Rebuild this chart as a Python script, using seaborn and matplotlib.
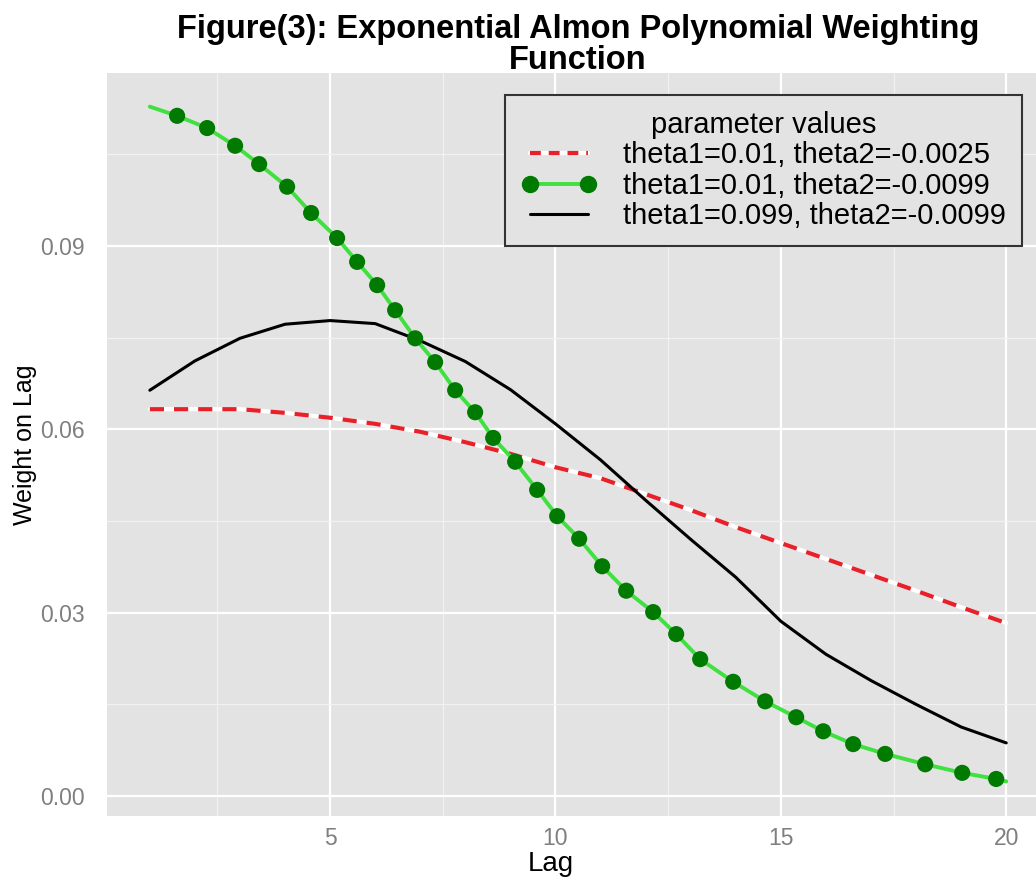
import numpy as np
import pandas as pd
import matplotlib
matplotlib.use("Agg")
import matplotlib.pyplot as plt
import seaborn as sns
from matplotlib.lines import Line2D
from matplotlib.ticker import MultipleLocator

# --- data ---
lag = list(range(1, 21))
weight_red = [0.0633, 0.0633, 0.0633, 0.0627, 0.0619, 0.0609, 0.0596, 0.0579, 0.0560, 0.0538,
              0.0520, 0.0494, 0.0468, 0.0440, 0.0414, 0.0388, 0.0362, 0.0336, 0.0309, 0.0283]
weight_black = [0.0664, 0.0712, 0.0749, 0.0772, 0.0778, 0.0773, 0.0745, 0.0711, 0.0665, 0.0609,
                0.0550, 0.0484, 0.0420, 0.0358, 0.0286, 0.0232, 0.0189, 0.0150, 0.0113, 0.0087]

green_dot_lag = [1.605, 2.271, 2.892, 3.425, 4.046, 4.578, 5.155, 5.599, 6.043, 6.442, 6.886,
                 7.330, 7.774, 8.217, 8.617, 9.105, 9.593, 10.037, 10.525, 11.035, 11.568,
                 12.167, 12.677, 13.210, 13.942, 14.652, 15.340, 15.939, 16.604, 17.314,
                 18.202, 19.023, 19.777]
green_dot_weight = [0.1113, 0.1093, 0.1064, 0.1034, 0.0997, 0.0954, 0.0913, 0.0874, 0.0836,
                    0.0795, 0.0749, 0.0710, 0.0664, 0.0628, 0.0586, 0.0547, 0.0501, 0.0458,
                    0.0421, 0.0376, 0.0336, 0.0301, 0.0265, 0.0224, 0.0187, 0.0155, 0.0129,
                    0.0106, 0.0085, 0.0069, 0.0052, 0.0038, 0.0028]
green_end_lag = [1.0, 20.0]
green_end_weight = [0.1128, 0.0024]

labels = ["theta1=0.01, theta2=-0.0025",
          "theta1=0.01, theta2=-0.0099",
          "theta1=0.099, theta2=-0.0099"]

panel_bg = "#E3E3E3"
red = "#E8202A"
light_green = "#3FE03F"
dark_green = "#007A00"

sns.set_theme(style="darkgrid", rc={
    "axes.facecolor": panel_bg,
    "figure.facecolor": "white",
    "grid.color": "white",
    "axes.edgecolor": panel_bg,
})
plt.rcParams["font.family"] = ["Liberation Sans", "DejaVu Sans"]

df_red = pd.DataFrame({"Lag": lag, "Weight": weight_red})
df_black = pd.DataFrame({"Lag": lag, "Weight": weight_black})
df_green_line = pd.DataFrame({
    "Lag": [green_end_lag[0]] + green_dot_lag + [green_end_lag[1]],
    "Weight": [green_end_weight[0]] + green_dot_weight + [green_end_weight[1]],
})
df_green_dots = pd.DataFrame({"Lag": green_dot_lag, "Weight": green_dot_weight})

fig = plt.figure(figsize=(10.36, 8.81), dpi=100)
ax = fig.add_axes([0.1033, 0.0742, 0.9093, 0.8429])

# red dashed line sits on a white underlay
sns.lineplot(data=df_red, x="Lag", y="Weight", ax=ax, color="white", lw=3.0, zorder=3)
sns.lineplot(data=df_red, x="Lag", y="Weight", ax=ax, color=red, lw=3.0,
             linestyle=(0, (3.4, 2.4)), zorder=4)
sns.lineplot(data=df_black, x="Lag", y="Weight", ax=ax, color="black", lw=2.2, zorder=5)
sns.lineplot(data=df_green_line, x="Lag", y="Weight", ax=ax, color=light_green, lw=2.8, zorder=6)
sns.scatterplot(data=df_green_dots, x="Lag", y="Weight", ax=ax, color=dark_green, s=135,
                edgecolor="none", zorder=7)

ax.set_xlim(0.05, 20.95)
ax.set_ylim(-0.0032, 0.1183)
ax.set_xticks([5, 10, 15, 20])
ax.set_yticks([0.0, 0.03, 0.06, 0.09])
ax.set_yticklabels(["0.00", "0.03", "0.06", "0.09"])
ax.xaxis.set_minor_locator(MultipleLocator(2.5))
ax.yaxis.set_minor_locator(MultipleLocator(0.015))
ax.grid(which="major", color="white", lw=1.6)
ax.grid(which="minor", color="#F2F2F2", lw=0.9)
ax.tick_params(which="major", axis="both", length=4, width=1, color="#7F7F7F",
               labelcolor="#7F7F7F", labelsize=16.5)
ax.tick_params(which="major", axis="y", pad=12)
ax.tick_params(which="major", axis="x", pad=4)
ax.tick_params(which="minor", length=0)
for sp in ax.spines.values():
    sp.set_visible(False)

ax.set_xlabel("Lag", fontsize=20, color="black", labelpad=0)
ax.xaxis.set_label_coords((551 - 107) / (1049 - 107), -0.048)
ax.set_ylabel("Weight on Lag", fontsize=18, color="black", labelpad=2)
ax.set_title("Figure(3): Exponential Almon Polynomial Weighting\nFunction",
             fontsize=23.5, fontweight="bold", color="black", linespacing=0.98, pad=3)

h_red = (Line2D([], [], color="white", lw=3.0),
         Line2D([], [], color=red, lw=3.0, linestyle=(0, (2.6, 1.9))))
h_green = Line2D([], [], color=light_green, lw=2.8, marker="o", markersize=11.5,
                 markerfacecolor=dark_green, markeredgecolor=dark_green)
h_black = Line2D([], [], color="black", lw=2.2)
leg = fig.legend([h_red, h_green, h_black], labels, title="parameter values",
                 loc="upper right", bbox_to_anchor=(1022 / 1036, 1 - 95 / 881),
                 bbox_transform=fig.transFigure, fontsize=21, title_fontsize=21,
                 numpoints=2, handlelength=2.6, handletextpad=0.9, labelspacing=0.08,
                 borderpad=0.55, borderaxespad=0, fancybox=False, framealpha=1,
                 facecolor=panel_bg, edgecolor="#333333")
leg.get_frame().set_linewidth(1.5)
for t in leg.get_texts():
    t.set_color("black")
leg.get_title().set_color("black")

fig.savefig("out.png", dpi=100)
